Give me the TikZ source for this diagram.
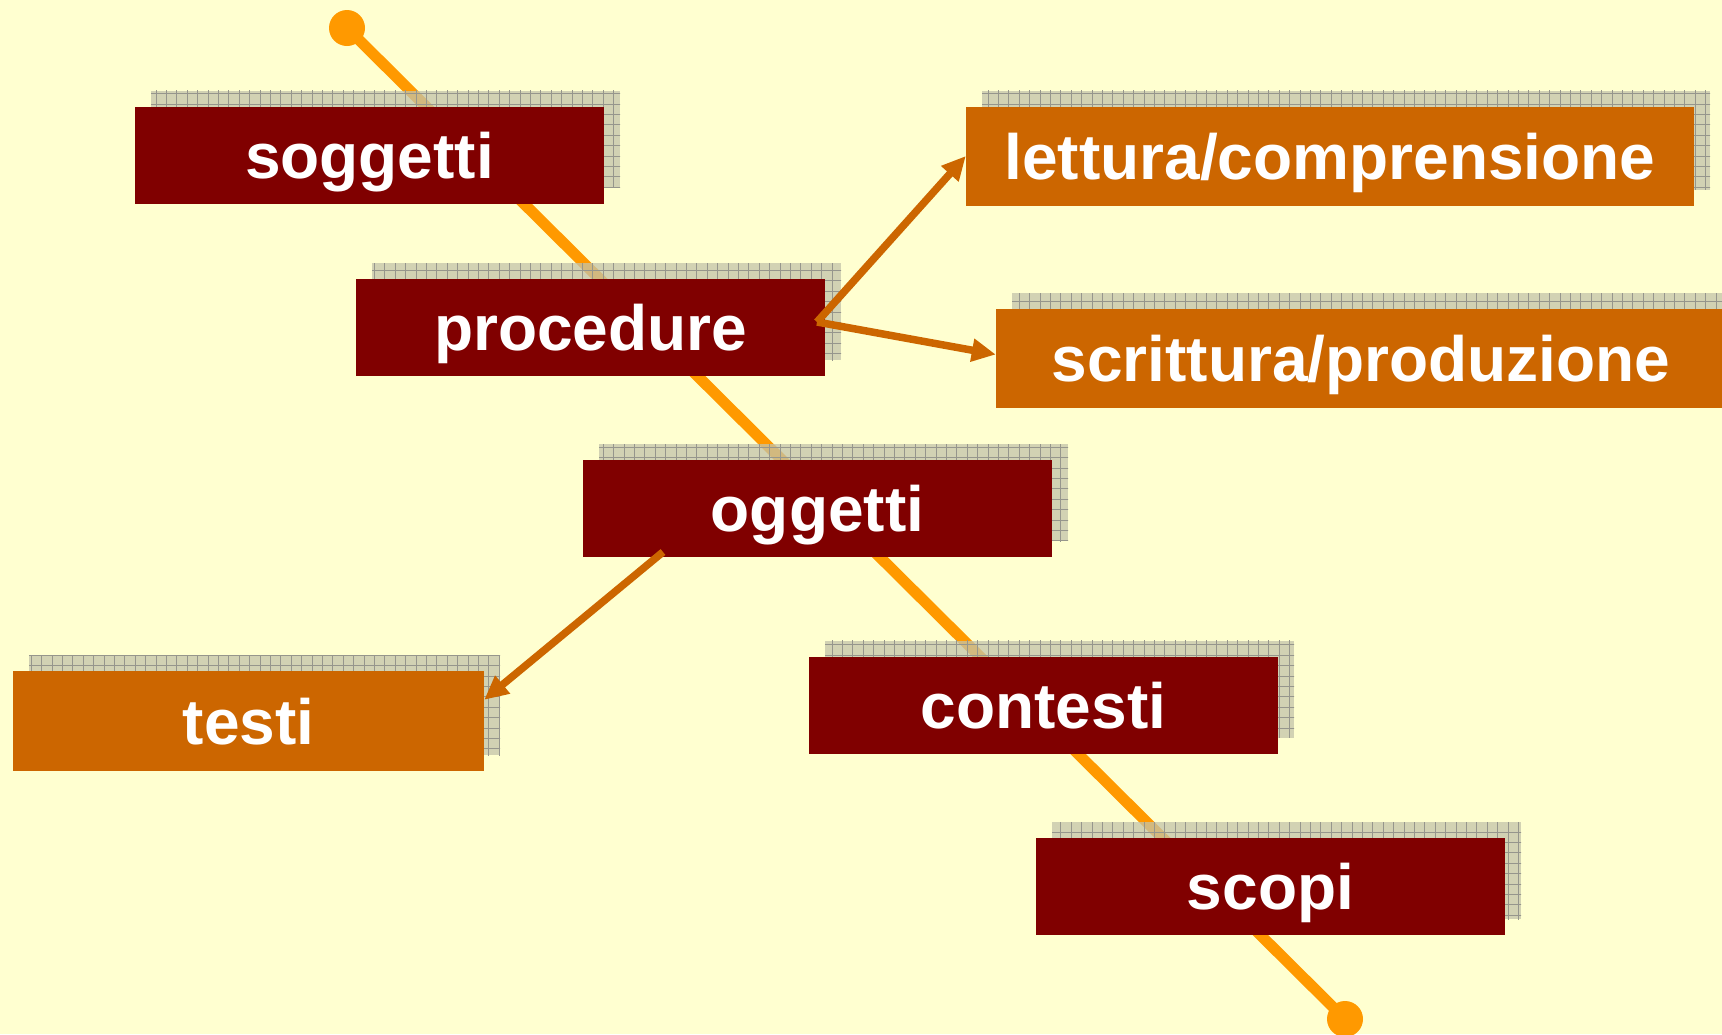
\documentclass[tikz,border=0pt]{standalone}
\usepackage{fontspec}
\setmainfont{Liberation Sans}
\usetikzlibrary{arrows.meta,calc}
\definecolor{bgyellow}{RGB}{255,255,208}
\definecolor{darkred}{RGB}{128,0,0}
\definecolor{boxorange}{RGB}{204,102,0}
\definecolor{lineorange}{RGB}{255,153,0}
\definecolor{shfill}{RGB}{196,196,170}
\definecolor{shgrid}{RGB}{150,150,140}
\tikzset{
  redbox/.style={fill=darkred, text=white, inner sep=0pt, text height=46pt, text depth=0pt,
    font=\bfseries\fontsize{64}{70}\selectfont},
  orangebox/.style={redbox, fill=boxorange},
  shadowfill/.style={fill=shfill, fill opacity=0.75},
  gridline/.style={draw=shgrid, line width=0.8pt},
  axisline/.style={draw=lineorange, line width=11pt},
  axisdot/.style={fill=lineorange},
  linkarrow/.style={draw=boxorange, line width=7.5pt, -{Triangle[length=24pt,width=22pt]}}
}
% name, cx, cy, w, h, style, text
\newcommand\shbox[7]{%
  \begin{scope}
    \clip (#2-#4/2+16, #3-#5/2-16) rectangle ++(#4, #5);
    \fill[shadowfill] (#2-#4/2+16, #3-#5/2-16) rectangle ++(#4, #5);
    \draw[gridline] (#2-#4/2+6, #3-#5/2-26) grid[step=10.4pt] (#2+#4/2+26, #3+#5/2-6);
  \end{scope}
  \node[#6, minimum width=#4pt, minimum height=#5pt] (#1) at (#2,#3) {#7};
}
\begin{document}
\begin{tikzpicture}[x=1pt,y=-1pt]
\clip (0,0) rectangle (1722,1034);
\fill[bgyellow] (0,0) rectangle (1722,1034);
\coordinate (dotA) at (347,28);
\coordinate (dotB) at (1345,1019);
\draw[axisline] (dotA) -- (dotB);
\fill[axisdot] (dotA) circle (18);
\fill[axisdot] (dotB) circle (18);
\shbox{sog}{369.5}{155}{469}{97}{redbox}{soggetti}
\shbox{proc}{590.5}{327.5}{469}{97}{redbox}{procedure}
\shbox{ogg}{817.5}{508.5}{469}{97}{redbox}{oggetti}
\shbox{cont}{1043.5}{705}{469}{97}{redbox}{contesti}
\shbox{scopi}{1270.5}{886.5}{469}{97}{redbox}{scopi}
\shbox{lett}{1330}{156}{728}{99}{orangebox}{lettura/comprensione}
\shbox{scr}{1361}{358.5}{730}{99}{orangebox}{scrittura/produzione}
\shbox{testi}{248.5}{721}{471}{100}{orangebox}{testi}
\coordinate (ps) at (817,322);
\coordinate (os) at (663,552);
\draw[linkarrow] (ps) -- (lett.west);
\draw[linkarrow] (ps) -- ($(scr.west)+(0,-4)$);
\draw[linkarrow] (os) -- ($(testi.north east)+(0,29)$);
\end{tikzpicture}
\end{document}
